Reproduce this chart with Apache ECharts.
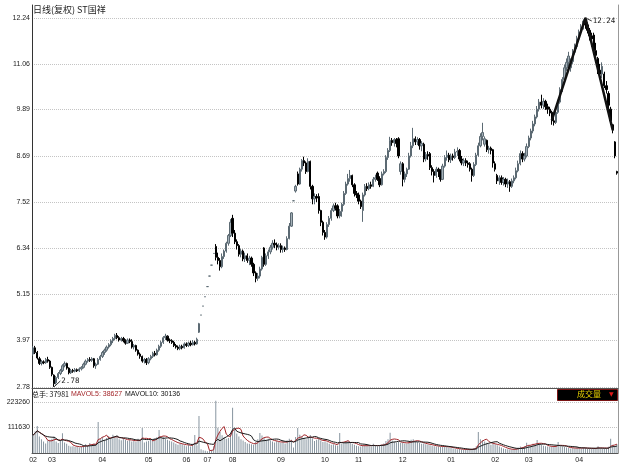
<!DOCTYPE html>
<html>
<head>
<meta charset="utf-8">
<script src="https://cdn.jsdelivr.net/npm/echarts@6.0.0/dist/echarts.min.js"></script>
<style>
  html, body { margin: 0; padding: 0; background: #fff; }
  #main { width: 628px; height: 468px; }
</style>
</head>
<body>
<div id="main"></div>
<script>
// month labels and trading days per month
const monthLabels = ['02', '03', '04', '05', '06', '07', '08', '09', '10', '11', '12', '01', '02', '03', '04'];
const monthDays = [9, 24, 22, 18, 10, 12, 23, 21, 16, 21, 23, 21, 16, 24, 19];

const opens = [
  3.62,3.78,3.66,3.50,3.38,3.42,3.40,3.48,3.44,
  3.28,3.08,2.88,3.02,3.12,3.20,3.32,3.38,3.26,3.14,3.20,3.18,3.22,3.19,3.24,3.28,3.36,3.44,3.48,3.46,3.50,3.32,3.36,3.48,
  3.56,3.66,3.72,3.80,3.86,3.96,4.02,4.10,4.04,3.98,4.02,3.96,3.90,3.98,3.94,3.80,3.84,3.72,3.62,3.56,3.44,3.48,
  3.40,3.50,3.56,3.64,3.60,3.72,3.82,3.92,4.04,4.08,3.98,3.96,3.92,3.84,3.80,3.76,3.82,3.78,
  3.88,3.84,3.90,3.86,3.92,3.88,4.18,4.62,4.85,5.09,
  5.35,5.62,5.90,6.20,6.38,6.10,6.02,5.86,6.12,6.26,6.46,6.66,
  7.10,6.72,6.50,6.40,6.18,6.26,6.06,6.14,6.02,6.08,5.92,5.70,5.56,5.62,5.80,6.34,5.92,6.14,6.24,6.36,6.46,6.42,6.36,
  6.40,6.30,6.34,6.30,6.58,6.90,7.55,7.80,8.24,7.98,8.36,8.58,8.52,8.30,8.56,7.92,7.60,7.66,7.66,7.30,7.00,
  6.74,6.62,6.94,7.10,7.30,7.42,7.42,7.16,7.28,7.46,7.74,7.98,8.12,8.20,7.96,7.74,
  7.70,7.54,7.30,7.70,7.92,7.86,7.96,7.92,8.10,8.26,8.12,7.96,8.24,8.30,8.66,8.84,9.10,9.04,9.12,9.14,8.30,
  8.50,8.10,8.24,8.36,8.70,8.96,9.14,9.06,9.12,8.96,9.00,8.62,8.74,8.76,8.40,8.30,8.20,8.36,8.32,8.10,8.44,8.66,8.72,
  8.60,8.70,8.66,8.80,8.84,8.62,8.52,8.58,8.52,8.50,8.36,8.20,8.48,8.72,8.96,9.20,9.00,9.10,8.86,8.90,8.86,
  8.50,8.20,8.06,8.14,8.02,8.10,7.98,8.04,7.92,8.06,8.14,8.32,8.50,8.76,8.62,8.70,
  8.94,9.16,9.34,9.52,9.70,9.90,10.08,10.00,10.10,9.96,9.90,9.82,9.60,9.56,9.82,10.08,10.40,10.66,10.96,11.10,10.96,11.12,11.36,11.50,
  11.70,11.88,12.00,12.16,12.06,11.92,11.78,11.80,11.40,11.20,10.90,10.80,10.80,10.50,10.30,9.90,9.50,9.06,8.30
];
const closes = [
  3.78,3.66,3.52,3.38,3.42,3.40,3.48,3.44,3.28,
  3.10,2.86,3.02,3.12,3.20,3.32,3.38,3.26,3.14,3.20,3.18,3.22,3.19,3.24,3.28,3.36,3.44,3.48,3.46,3.50,3.32,3.36,3.48,3.56,
  3.66,3.72,3.80,3.86,3.96,4.02,4.10,4.04,3.98,4.02,3.96,3.90,3.98,3.94,3.80,3.84,3.72,3.62,3.56,3.44,3.48,3.40,
  3.50,3.56,3.64,3.60,3.72,3.82,3.92,4.04,4.08,3.98,3.96,3.92,3.84,3.80,3.76,3.82,3.78,3.88,
  3.84,3.90,3.86,3.92,3.88,4.00,4.40,4.62,4.85,5.09,
  5.35,5.62,5.90,6.20,6.10,6.02,5.86,6.12,6.26,6.46,6.66,7.00,
  6.72,6.50,6.40,6.18,6.26,6.06,6.14,6.02,6.08,5.92,5.70,5.56,5.62,5.80,6.10,5.92,6.14,6.24,6.36,6.46,6.42,6.36,6.40,
  6.30,6.34,6.30,6.58,6.90,7.24,7.55,7.92,7.98,8.36,8.58,8.52,8.30,8.56,7.92,7.60,7.66,7.62,7.30,7.00,6.74,
  6.62,6.94,7.10,7.30,7.42,7.36,7.16,7.28,7.46,7.74,7.98,8.12,8.20,7.96,7.74,7.70,
  7.54,7.40,7.70,7.92,7.86,7.96,7.92,8.10,8.14,8.10,7.96,8.24,8.30,8.66,8.84,9.10,9.04,9.12,9.02,8.70,8.50,
  8.10,8.24,8.36,8.70,8.96,9.14,9.06,9.12,8.96,9.02,8.62,8.74,8.70,8.40,8.30,8.20,8.36,8.30,8.10,8.44,8.66,8.72,8.60,
  8.70,8.66,8.80,8.82,8.62,8.52,8.58,8.52,8.48,8.36,8.20,8.48,8.72,8.96,9.20,9.30,9.14,8.86,8.90,8.84,8.52,
  8.36,8.06,8.14,8.02,8.10,7.98,8.04,7.92,8.06,8.14,8.32,8.50,8.76,8.62,8.70,8.94,
  9.16,9.34,9.52,9.70,9.90,10.08,10.00,10.10,9.96,9.90,9.80,9.60,9.56,9.82,10.08,10.40,10.66,10.96,11.10,11.26,11.12,11.36,11.50,11.70,
  11.88,12.00,12.16,12.06,11.92,11.78,11.70,11.40,11.28,10.90,10.80,11.00,10.50,10.40,10.00,9.60,9.36,8.70,8.26
];
const lows = [
  3.58,3.62,3.48,3.34,3.33,3.36,3.37,3.40,3.24,
  3.05,2.78,2.84,2.98,3.08,3.16,3.28,3.22,3.10,3.11,3.14,3.15,3.16,3.16,3.20,3.25,3.33,3.40,3.42,3.42,3.27,3.24,3.34,3.45,
  3.52,3.60,3.68,3.76,3.82,3.90,3.98,4.00,3.94,3.94,3.92,3.86,3.88,3.90,3.76,3.74,3.68,3.58,3.50,3.40,3.38,3.34,
  3.36,3.46,3.52,3.56,3.58,3.68,3.78,3.88,3.98,3.94,3.90,3.88,3.80,3.76,3.72,3.72,3.74,3.76,
  3.80,3.80,3.82,3.84,3.84,3.86,4.16,4.62,4.85,5.09,
  5.35,5.62,5.90,6.20,6.02,5.92,5.76,5.82,6.06,6.22,6.40,6.62,
  6.62,6.44,6.30,6.12,6.10,6.00,5.98,5.96,5.90,5.86,5.62,5.46,5.50,5.56,5.76,5.86,5.88,6.06,6.18,6.30,6.34,6.28,6.30,
  6.22,6.22,6.24,6.28,6.56,6.88,7.55,7.76,7.94,7.96,8.30,8.44,8.24,8.28,7.84,7.46,7.46,7.52,7.22,6.90,6.66,
  6.55,6.58,6.88,7.04,7.26,7.30,7.10,7.10,7.14,7.42,7.70,7.94,8.04,7.90,7.66,7.62,
  7.46,7.34,7.01,7.66,7.80,7.82,7.86,7.90,8.04,8.06,7.90,7.94,8.20,8.26,8.60,8.80,8.96,8.94,8.92,8.64,8.22,
  7.92,8.02,8.16,8.34,8.66,8.90,8.98,8.98,8.86,8.82,8.54,8.56,8.60,8.34,8.20,8.02,8.14,8.16,8.04,8.08,8.40,8.58,8.54,
  8.52,8.58,8.62,8.70,8.56,8.46,8.44,8.44,8.40,8.30,8.04,8.16,8.44,8.68,8.92,9.10,8.94,8.80,8.76,8.74,8.40,
  8.30,7.98,7.96,7.96,7.94,7.90,7.88,7.78,7.88,8.00,8.10,8.28,8.46,8.54,8.56,8.66,
  8.90,9.10,9.28,9.46,9.66,9.84,9.92,9.90,9.88,9.78,9.72,9.50,9.48,9.52,9.78,10.04,10.34,10.60,10.88,11.00,10.86,11.06,11.30,11.44,
  11.62,11.80,11.94,11.96,11.84,11.66,11.50,11.30,11.20,10.80,10.70,10.70,10.44,10.30,9.90,9.50,9.28,8.64,8.22
];
const highs = [
  3.82,3.83,3.70,3.55,3.47,3.46,3.52,3.55,3.47,
  3.30,3.10,3.06,3.16,3.24,3.36,3.43,3.40,3.28,3.24,3.24,3.26,3.25,3.28,3.31,3.40,3.48,3.52,3.54,3.54,3.52,3.40,3.52,3.60,
  3.70,3.76,3.84,3.90,4.00,4.06,4.14,4.16,4.08,4.06,4.06,4.00,4.02,4.02,4.00,3.88,3.86,3.74,3.66,3.58,3.52,3.52,
  3.54,3.60,3.68,3.70,3.76,3.86,3.96,4.08,4.14,4.10,4.02,4.00,3.96,3.88,3.84,3.86,3.86,3.92,
  3.92,3.94,3.96,3.98,3.96,4.04,4.42,4.62,4.85,5.09,
  5.35,5.62,5.90,6.20,6.44,6.22,6.08,6.20,6.30,6.50,6.70,7.08,
  7.19,6.80,6.56,6.44,6.32,6.30,6.22,6.20,6.14,6.12,5.96,5.74,5.70,5.86,6.14,6.36,6.20,6.30,6.42,6.54,6.56,6.48,6.46,
  6.46,6.40,6.38,6.64,6.98,7.26,7.55,7.96,8.30,8.40,8.62,8.68,8.56,8.64,8.58,7.96,7.74,7.72,7.74,7.32,7.04,
  6.80,7.00,7.16,7.36,7.48,7.50,7.46,7.34,7.50,7.80,8.04,8.24,8.34,8.22,8.00,7.80,
  7.76,7.58,7.76,7.98,8.00,8.02,8.04,8.16,8.22,8.30,8.18,8.30,8.36,8.72,8.90,9.19,9.16,9.16,9.16,9.18,8.56,
  8.54,8.30,8.40,8.78,9.06,9.42,9.20,9.18,9.16,9.08,9.04,8.80,8.82,8.80,8.46,8.36,8.42,8.40,8.36,8.50,8.72,8.84,8.78,
  8.76,8.76,8.88,8.92,8.88,8.70,8.64,8.64,8.58,8.54,8.40,8.54,8.78,9.04,9.28,9.55,9.20,9.12,8.96,8.94,8.88,
  8.56,8.24,8.20,8.20,8.16,8.14,8.12,8.08,8.12,8.20,8.40,8.58,8.84,8.82,8.78,9.02,
  9.22,9.40,9.60,9.76,9.98,10.16,10.27,10.18,10.14,10.04,9.96,9.86,9.70,9.90,10.14,10.46,10.72,11.04,11.20,11.37,11.20,11.44,11.58,11.78,
  11.94,12.08,12.20,12.24,12.12,11.98,11.86,11.86,11.60,11.24,11.06,11.10,10.86,10.62,10.36,9.96,9.52,9.08,8.32
];
const volumes = [
  78000,95000,118000,72000,60000,50000,42000,55000,58000,
  62000,72000,50000,44000,52000,86000,46000,40000,32000,28000,30000,26000,30000,24000,28000,34000,38000,32000,44000,36000,42000,36000,135000,62000,
  70000,58000,66000,74000,62000,80000,68000,72000,60000,56000,64000,58000,52000,60000,50000,56000,48000,62000,54000,109000,46000,50000,
  52000,60000,56000,64000,70000,100000,66000,72000,62000,58000,54000,50000,46000,40000,36000,42000,38000,34000,
  30000,36000,28000,40000,79000,34000,162000,16000,12000,10000,
  8000,10000,14000,30000,228000,110000,92000,78000,70000,62000,66000,88000,
  198000,100000,85000,72000,60000,55000,48000,42000,40000,38000,36000,48000,60000,87000,76000,65000,58000,62000,55000,50000,46000,52000,48000,
  45000,50000,42000,55000,62000,58000,24000,70000,109000,80000,72000,66000,60000,70000,79000,64000,52000,58000,62000,55000,48000,
  50000,46000,40000,36000,38000,34000,32000,87000,40000,44000,48000,52000,46000,40000,36000,32000,
  30000,28000,34000,36000,32000,30000,28000,40000,34000,30000,32000,36000,42000,52000,60000,89000,55000,50000,46000,48000,44000,
  46000,42000,40000,52000,58000,60000,52000,48000,44000,40000,42000,38000,36000,34000,32000,30000,28000,30000,26000,30000,28000,26000,24000,
  22000,20000,18000,16000,18000,15000,14000,16000,15000,14000,18000,22000,30000,92000,60000,56000,50000,45000,40000,36000,42000,
  38000,34000,28000,24000,20000,18000,16000,15000,14000,18000,20000,24000,28000,26000,30000,45000,
  36000,34000,40000,38000,57000,42000,36000,32000,30000,28000,26000,30000,28000,32000,48000,30000,28000,26000,24000,22000,20000,22000,20000,24000,
  22000,20000,24000,22000,18000,20000,18000,22000,20000,30000,20000,18225,20000,20000,27000,62000,36154,30000,37981
];

const priceTicks = [2.78, 3.97, 5.15, 6.34, 7.52, 8.69, 9.89, 11.06, 12.24];
const volumeTicks = [111630, 223260];
// hand-drawn trend line: [day index, price]
const trendLine = [[247, 9.62], [263, 12.24], [276, 9.36]];
// annotated extremes: [day index, price]
const extremes = [[10, 2.78], [263, 12.24]];

const categories = [];
monthLabels.forEach((m, k) => {
  for (let d = 0; d < monthDays[k]; d++) categories.push(m + '|' + d);
});

const ohlc = opens.map((o, i) => [o, closes[i], lows[i], highs[i]]);

function movingAvg(n) {
  return volumes.map((v, i) => {
    const from = Math.max(0, i - n + 1);
    let s = 0;
    for (let j = from; j <= i; j++) s += volumes[j];
    return s / (i - from + 1);
  });
}
const ma5 = movingAvg(5);
const ma10 = movingAvg(10);
const last = volumes.length - 1;

// little leader line from each extreme to its label
const leaderEnds = extremes.map(e => [e[0] + 3, e[1] < 5 ? e[1] + 0.15 : e[1] - 0.08]);

const chart = echarts.init(document.getElementById('main'), null, { renderer: 'canvas' });
const axFont = { fontSize: 7, color: '#222', fontFamily: 'Liberation Sans, Arial, sans-serif' };
const dotted = { show: true, lineStyle: { type: 'dotted', color: '#c4c4c4', width: 1 } };

chart.setOption({
  animation: false,
  backgroundColor: '#fff',
  grid: [
    { left: 32, right: 10, top: 5, height: 383 },
    { left: 32, right: 10, top: 388, height: 65 }
  ],
  xAxis: [
    {
      type: 'category', gridIndex: 0, data: categories, boundaryGap: true,
      axisLine: { show: true, lineStyle: { color: '#555' } },
      axisTick: { show: false }, axisLabel: { show: false }, splitLine: { show: false }
    },
    {
      type: 'category', gridIndex: 1, data: categories, boundaryGap: true,
      axisLine: { show: true, lineStyle: { color: '#555' } },
      axisTick: { show: false },
      axisLabel: Object.assign({
        margin: 4,
        interval: (idx, val) => val.split('|')[1] === '0',
        formatter: val => val.split('|')[0]
      }, axFont),
      splitLine: { show: false }
    }
  ],
  yAxis: [
    {
      type: 'value', gridIndex: 0, min: 2.75, max: 12.57, position: 'left',
      axisLine: { show: true, lineStyle: { color: '#333' } },
      axisTick: { show: false, customValues: priceTicks },
      axisLabel: Object.assign({ margin: 2, customValues: priceTicks, formatter: v => v.toFixed(2) }, axFont),
      splitLine: dotted
    },
    {
      type: 'value', gridIndex: 0, min: 2.75, max: 12.57, position: 'right',
      axisLine: { show: true, lineStyle: { color: '#999' } },
      axisTick: { show: false }, axisLabel: { show: false }, splitLine: { show: false }
    },
    {
      type: 'value', gridIndex: 1, min: 0, max: 284000, position: 'left',
      axisLine: { show: true, lineStyle: { color: '#333' } },
      axisTick: { show: false, customValues: volumeTicks },
      axisLabel: Object.assign({ margin: 2, customValues: volumeTicks, formatter: v => String(v) }, axFont),
      splitLine: dotted
    },
    {
      type: 'value', gridIndex: 1, min: 0, max: 284000, position: 'right',
      axisLine: { show: true, lineStyle: { color: '#999' } },
      axisTick: { show: false }, axisLabel: { show: false }, splitLine: { show: false }
    }
  ],
  series: [
    {
      name: 'K', type: 'candlestick', xAxisIndex: 0, yAxisIndex: 0,
      data: ohlc, barWidth: 1.8,
      itemStyle: {
        color: '#a4b0b8', color0: '#000',
        borderColor: '#5c6a73', borderColor0: '#000', borderWidth: 1
      },
      markLine: {
        silent: true, symbol: 'none',
        lineStyle: { color: '#333', width: 1, type: 'solid' },
        label: { show: false },
        data: extremes.map((e, k) => [{ coord: e }, { coord: leaderEnds[k] }])
      },
      markPoint: {
        silent: true, symbol: 'circle', symbolSize: 0,
        label: {
          show: true, position: 'right', distance: 1, fontSize: 7.5, color: '#222',
          fontFamily: 'DejaVu Sans Mono, monospace',
          formatter: p => p.data.text
        },
        data: extremes.map((e, k) => ({ coord: leaderEnds[k], text: e[1].toFixed(2) }))
      }
    },
    {
      name: 'trend', type: 'line', xAxisIndex: 0, yAxisIndex: 0,
      data: trendLine, symbol: 'none', silent: true,
      lineStyle: { color: '#111', width: 2.5 }
    },
    {
      name: 'VOL', type: 'bar', xAxisIndex: 1, yAxisIndex: 2,
      data: volumes, barWidth: 1, itemStyle: { color: '#8795a0' }
    },
    {
      name: 'MAVOL5', type: 'line', xAxisIndex: 1, yAxisIndex: 2,
      data: ma5, symbol: 'none', lineStyle: { color: '#a3262a', width: 1 }
    },
    {
      name: 'MAVOL10', type: 'line', xAxisIndex: 1, yAxisIndex: 2,
      data: ma10, symbol: 'none', lineStyle: { color: '#1a1a1a', width: 1 }
    }
  ],
  graphic: [
    {
      type: 'text', left: 33, top: 5,
      style: { text: '日线(复权) ST国祥', fontSize: 9, fill: '#222', fontFamily: 'Noto Sans CJK SC' }
    },
    {
      type: 'text', left: 32, top: 391,
      style: { text: '总手: ' + volumes[last], fontSize: 7, fill: '#111', fontFamily: 'Noto Sans CJK SC, Liberation Sans' }
    },
    {
      type: 'text', left: 71, top: 391,
      style: { text: 'MAVOL5: ' + Math.round(ma5[last]), fontSize: 7, fill: '#a3262a', fontFamily: 'Liberation Sans' }
    },
    {
      type: 'text', left: 125, top: 391,
      style: { text: 'MAVOL10: ' + Math.round(ma10[last]), fontSize: 7, fill: '#111', fontFamily: 'Liberation Sans' }
    },
    {
      type: 'rect', left: 557, top: 389,
      shape: { width: 60, height: 11 },
      style: { fill: '#000', stroke: '#7a1414', lineWidth: 1 }
    },
    {
      type: 'text', left: 577, top: 390,
      style: { text: '成交量', fontSize: 8, fill: '#e8d200', fontFamily: 'Noto Sans CJK SC' }
    },
    {
      type: 'text', left: 609, top: 391,
      style: { text: '▼', fontSize: 6, fill: '#e01818', fontFamily: 'DejaVu Sans' }
    }
  ]
});
</script>
</body>
</html>
